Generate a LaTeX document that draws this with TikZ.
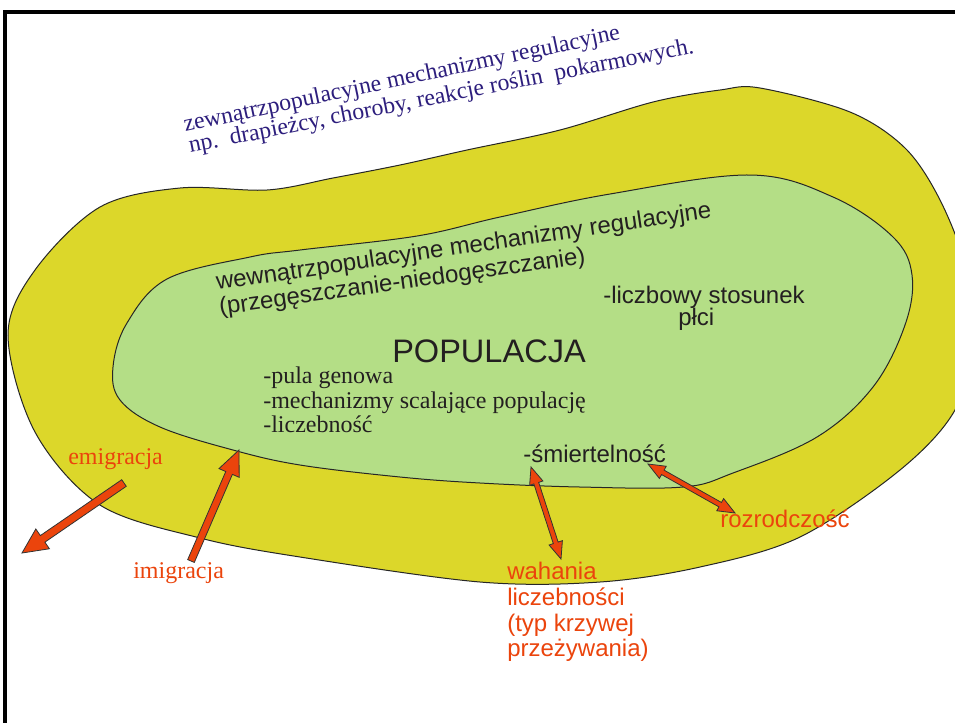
\documentclass[tikz,border=0pt]{standalone}
\usepackage{fontspec}
\setmainfont{Liberation Serif}
\setsansfont{Liberation Sans}
\usetikzlibrary{calc}
\definecolor{outerY}{RGB}{220,215,42}
\definecolor{innerG}{RGB}{180,222,134}
\definecolor{navyT}{RGB}{45,30,125}
\definecolor{redO}{RGB}{235,68,12}
\definecolor{darkT}{RGB}{35,31,32}
\tikzset{
  blob/.style={draw=black!85, line width=0.75pt},
  blockarrow/.style={fill=redO, draw=black!80, line width=0.6pt, line join=miter},
  sanslbl/.style={font=\sffamily\fontsize{18}{19.5}\selectfont, text=darkT, inner sep=0pt},
  seriflbl/.style={font=\rmfamily\fontsize{18}{18.75}\selectfont, text=darkT, inner sep=0pt},
  toptext/.style={font=\rmfamily\fontsize{17.8}{20}\selectfont, text=navyT, inner sep=0pt},
  redsans/.style={font=\sffamily\fontsize{18}{19.5}\selectfont, text=redO, inner sep=0pt},
  redserif/.style={font=\rmfamily\fontsize{18}{20}\selectfont, text=redO, inner sep=0pt},
  frameline/.style={line width=2.6pt, draw=black}
}
% single block arrow: tail, tip, half shaft, head length, half head
\newcommand\popSingleArrow[5]{%
  \coordinate (hbx) at ($(#2)!#4!(#1)$);
  \path[blockarrow] ($(#1)!#3!90:(#2)$) -- ($(hbx)!#3!90:(#2)$) -- ($(hbx)!#5!90:(#2)$)
    -- (#2) -- ($(hbx)!#5!-90:(#2)$) -- ($(hbx)!#3!-90:(#2)$) -- ($(#1)!#3!-90:(#2)$) -- cycle;
}
% double block arrow
\newcommand\popDoubleArrow[5]{%
  \coordinate (hba) at ($(#1)!#4!(#2)$);
  \coordinate (hbb) at ($(#2)!#4!(#1)$);
  \path[blockarrow] (#1) -- ($(hba)!#5!90:(#2)$) -- ($(hba)!#3!90:(#2)$) -- ($(hbb)!#3!90:(#2)$)
    -- ($(hbb)!#5!90:(#2)$) -- (#2) -- ($(hbb)!#5!-90:(#2)$) -- ($(hbb)!#3!-90:(#2)$)
    -- ($(hba)!#3!-90:(#2)$) -- ($(hba)!#5!-90:(#2)$) -- cycle;
}
\begin{document}
\begin{tikzpicture}[x=0.75pt, y=-0.75pt]
\useasboundingbox (0,0) rectangle (955,722);
\fill[white] (0,0) rectangle (955,722);

% outer blob
\path[blob, fill=outerY] plot[smooth cycle, tension=0.55] coordinates {
  (8,335) (35,270) (100,207) (180,188) (267,190) (333,178) (400,165) (467,150)
  (560,130) (653,102) (720,90) (760,88) (850,112) (905,148) (940,200) (966,268)
  (973,340) (955,410) (900,470) (800,537) (700,567) (600,582) (480,582) (300,557)
  (200,538) (100,505) (35,432)};

% inner blob
\path[blob, fill=innerG] plot[smooth cycle, tension=0.6] coordinates {
  (113,367) (127,323) (167,279) (250,257) (300,250) (417,236) (500,217) (610,194)
  (750,175) (833,197) (893,237) (912,275) (905,325) (873,387) (817,437) (733,473)
  (683,487) (580,487) (480,483) (400,477) (300,465) (233,450) (160,427) (120,400)};

% frame
\draw[frameline] (5,740) -- (5,12) -- (975,12);

% top text
\node[toptext, rotate=12, anchor=base west] (ext1) at (185,132) {zewnątrzpopulacyjne mechanizmy regulacyjne};
\node[toptext, rotate=11.2, anchor=base west] (ext2) at (190,153) {np.\ \ drapieżcy, choroby, reakcje roślin\ \ pokarmowych.};

% inner text
\node[sanslbl, rotate=8.3, anchor=base west] (int1) at (217,290) {wewnątrzpopulacyjne mechanizmy regulacyjne};
\node[sanslbl, rotate=8.0, anchor=base west] (int2) at (220,315) {(przegęszczanie-niedogęszczanie)};

\node[sanslbl, anchor=base west, font=\sffamily\fontsize{24.4}{29}\selectfont] (pop) at (392,362) {POPULACJA};

\node[sanslbl, anchor=base west] (sex1) at (603,303) {-liczbowy stosunek};
\node[sanslbl, anchor=base west] (sex2) at (678,325) {płci};

\node[seriflbl, anchor=base west] (pula) at (263,383) {-pula genowa};
\node[seriflbl, anchor=base west] (mech) at (263,408) {-mechanizmy scalające populację};
\node[seriflbl, anchor=base west] (licz) at (263,432) {-liczebność};

\node[sanslbl, anchor=base west] (smiert) at (523,462) {-śmiertelność};

% red labels
\node[redserif, anchor=base west] (emi) at (68,464) {emigracja};
\node[redserif, anchor=base west] (imi) at (133,578) {imigracja};
\node[redsans, anchor=base west] (rozr) at (720,527) {rozrodczość};
\node[redsans, anchor=base west] (wah1) at (507,579) {wahania};
\node[redsans, anchor=base west] (wah2) at (507,605) {liczebności};
\node[redsans, anchor=base west] (wah3) at (507,631) {(typ krzywej};
\node[redsans, anchor=base west] (wah4) at (507,656) {przeżywania)};

% arrows
\coordinate (emiT) at (124,483);
\coordinate (emiH) at (22,553);
\coordinate (imiT) at (191,561);
\coordinate (imiH) at (239,450);
\coordinate (smA) at (531,467);
\coordinate (smB) at (561,559);
\coordinate (roA) at (648,464);
\coordinate (roB) at (735,513);

\popSingleArrow{emiT}{emiH}{3pt}{18.75pt}{9pt}
\popSingleArrow{imiT}{imiH}{2.7pt}{18.75pt}{8.25pt}
\popDoubleArrow{smA}{smB}{1.9pt}{12.75pt}{5.25pt}
\popDoubleArrow{roA}{roB}{1.9pt}{12.75pt}{5.25pt}
\end{tikzpicture}
\end{document}
